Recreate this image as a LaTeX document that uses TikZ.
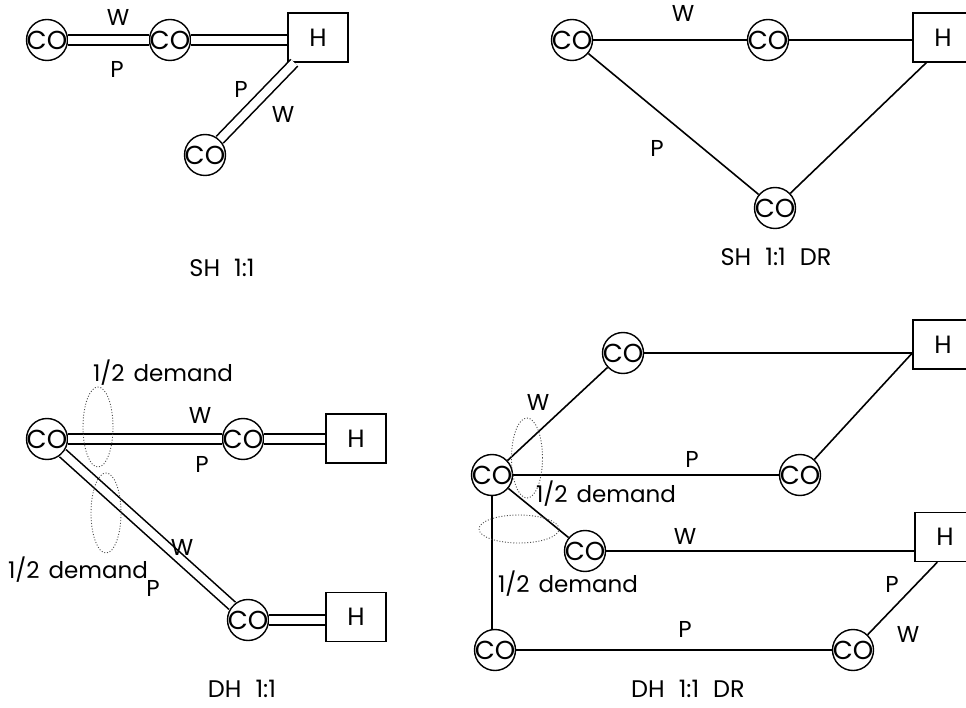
\documentclass[tikz,border=0pt]{standalone}
\usepackage{fontspec}
\setmainfont{Poppins}
\usetikzlibrary{shapes.geometric}
\newcommand{\cotext}{\makebox[0pt]{CO}}
\begin{document}
\begin{tikzpicture}[x=1pt,y=-1pt,
  co/.style={circle,draw,line width=1.4pt,minimum size=41pt,inner sep=0pt,font=\fontsize{26}{26}\selectfont},
  hbox/.style={rectangle,draw,line width=1.4pt,minimum width=60pt,minimum height=49pt,inner sep=0pt,font=\fontsize{25}{25}\selectfont},
  lbl/.style={font=\fontsize{23}{23}\selectfont,inner sep=0pt},
  ttl/.style={font=\fontsize{24}{24}\selectfont,inner sep=0pt},
  link/.style={line width=1.6pt},
  dbl/.style={draw,line width=1.6pt,double=white,double distance=8pt},
  dem/.style={ellipse,draw,line width=0.9pt,dash pattern=on 1pt off 1.8pt,gray!60!black,inner sep=0pt}
]
\useasboundingbox (0,0) rectangle (966,708);

% ---------- SH 1:1 ----------
\node[co] (a1) at (47,40) {\cotext};
\node[co] (a2) at (170,40) {\cotext};
\node[hbox] (ah) at (318,37.5) {H};
\node[co] (a3) at (205,155) {\cotext};
\draw[dbl] (a1) -- (a2);
\draw[dbl] (a2) -- (a2 -| ah.west);
\draw[dbl] ([xshift=7pt]ah.south west) -- (a3);
\node[lbl] (aw1) at (118,18) {W};
\node[lbl] (ap1) at (117,69) {P};
\node[lbl] (ap2) at (241,89) {P};
\node[lbl] (aw2) at (283,114) {W};
\node[ttl] (at) at (222,268) {SH\hspace{14pt}1:1};

% ---------- SH 1:1 DR ----------
\node[co] (b1) at (572,40) {\cotext};
\node[co] (b2) at (768,40) {\cotext};
\node[hbox] (bh) at (943,37.5) {H};
\node[co] (b3) at (775,208) {\cotext};
\draw[link] (b1) -- (b2);
\draw[link] (b2) -- (b2 -| bh.west);
\draw[link] (b1) -- (b3);
\draw[link] ([xshift=14pt]bh.south west) -- (b3);
\node[lbl] (bw) at (683,14) {W};
\node[lbl] (bp) at (657,148) {P};
\node[ttl] (bt) at (776,257) {SH\hspace{14pt}1:1\hspace{14pt}DR};

% ---------- DH 1:1 ----------
\node[co] (c1) at (47,439) {\cotext};
\node[co] (c2) at (243,439) {\cotext};
\node[hbox] (ch1) at (356,438.5) {H};
\node[co] (c3) at (248,620) {\cotext};
\node[hbox] (ch2) at (356,617) {H};
\draw[dbl] (c1) -- (c2);
\draw[dbl] (c2) -- (c2 -| ch1.west);
\draw[dbl] (c1) -- (c3);
\draw[dbl] (c3) -- (c3 -| ch2.west);
\node[dem,minimum width=30pt,minimum height=80pt] (ce1) at (98,427) {};
\node[dem,minimum width=30pt,minimum height=80pt] (ce2) at (106,513) {};
\node[lbl] (cd1) at (163,373) {1/2\hspace{9pt}demand};
\node[lbl] (cd2) at (78,570) {1/2\hspace{9pt}demand};
\node[lbl] (cw1) at (200,415) {W};
\node[lbl] (cp1) at (202,464) {P};
\node[lbl] (cw2) at (182,547) {W};
\node[lbl] (cp2) at (153,588) {P};
\node[ttl] (ct) at (242,689) {DH\hspace{14pt}1:1};

% ---------- DH 1:1 DR ----------
\node[co] (d0) at (492,475) {\cotext};
\node[co] (d1) at (623,353) {\cotext};
\node[hbox] (dh1) at (943,344.5) {H};
\node[co] (d2) at (800,475) {\cotext};
\node[co] (d3) at (585,551) {\cotext};
\node[hbox] (dh2) at (945,537) {H};
\node[co] (d4) at (495,650) {\cotext};
\node[co] (d5) at (853,650) {\cotext};
\coordinate (dh1p) at (d1 -| dh1.west);
\draw[link] (d0) -- (d1);
\draw[link] (d1) -- (dh1p);
\draw[link] (d2) -- (dh1p);
\draw[link] (d0) -- (d2);
\draw[link] (d0) -- (d3);
\draw[link] (d3) -- (d3 -| dh2.west);
\draw[link] (d0.south) -- (d0.south |- d4.north);
\draw[link] (d4) -- (d5);
\draw[link] (d5) -- ([xshift=23pt]dh2.south west);
\node[dem,minimum width=31pt,minimum height=80pt] (de1) at (527,458) {};
\node[dem,minimum width=80pt,minimum height=28pt] (de2) at (519,529) {};
\node[lbl] (dw1) at (538,402) {W};
\node[lbl] (dp1) at (692,459) {P};
\node[lbl] (dd1) at (606,494) {1/2\hspace{9pt}demand};
\node[lbl] (dw2) at (685,536) {W};
\node[lbl] (dd2) at (568,584) {1/2\hspace{9pt}demand};
\node[lbl] (dp2) at (892,584) {P};
\node[lbl] (dp3) at (685,629) {P};
\node[lbl] (dw3) at (908,634) {W};
\node[ttl] (dt) at (688,689) {DH\hspace{14pt}1:1\hspace{14pt}DR};
\end{tikzpicture}
\end{document}
